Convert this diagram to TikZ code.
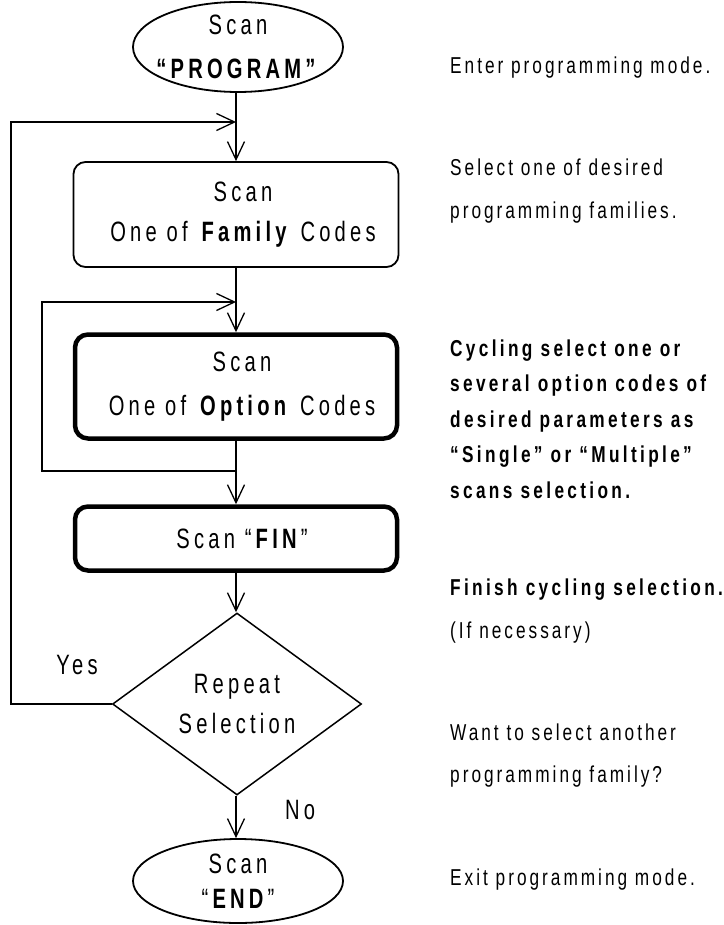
\documentclass[tikz,border=0pt]{standalone}
\usepackage{fontspec}
\setmainfont{Liberation Sans}
\newfontfamily\flowf[FakeStretch=0.72,LetterSpace=15]{Liberation Sans}
\newfontfamily\notef[FakeStretch=0.75,LetterSpace=13]{Liberation Sans}
\newfontfamily\notebf[FakeStretch=0.75,LetterSpace=14.5]{Liberation Sans}
\usetikzlibrary{shapes.geometric,arrows.meta}
\begin{document}
\begin{tikzpicture}[x=1pt,y=-1pt,
  flowtext/.style={font=\fontsize{28}{40}\selectfont\flowf, align=center, inner sep=0pt},
  notetext/.style={font=\fontsize{23}{43}\selectfont\notef, align=left, anchor=west, inner sep=0pt},
  roundbox/.style={draw, line width=1.8pt, rounded corners=12pt, minimum width=325pt, inner sep=0pt},
  heavybox/.style={draw, line width=4.5pt, rounded corners=13pt, minimum width=322pt, inner sep=0pt},
  oval/.style={draw, ellipse, line width=1.8pt, minimum width=210pt, inner sep=0pt},
  arr/.style={-{Straight Barb[length=18pt,width=17pt]}, line width=1.3pt}]
\useasboundingbox (0,0) rectangle (723,925);

% shapes
\node[oval, minimum height=90pt,
  label={[flowtext, font=\fontsize{28}{44}\selectfont\flowf]center:{Scan\\\textbf{“PROGRAM”}}}]
  (start) at (238,47) {};
\node[roundbox, minimum height=105pt,
  label={[flowtext, xshift=7pt, font=\fontsize{28}{40}\selectfont\flowf]center:{Scan\\One of \textbf{Family} Codes}}]
  (family) at (236,214.5) {};
\node[heavybox, minimum height=104pt,
  label={[flowtext, xshift=6pt, font=\fontsize{28}{44}\selectfont\flowf]center:{Scan\\One of \textbf{Option} Codes}}]
  (option) at (236,386.5) {};
\node[heavybox, minimum height=64pt,
  label={[flowtext, xshift=6pt]center:{Scan “\textbf{FIN}”}}]
  (fin) at (236,538.5) {};
\node[draw, diamond, line width=1.5pt, minimum width=249pt, minimum height=182pt, inner sep=0pt,
  label={[flowtext]center:{Repeat\\Selection}}]
  (dec) at (237,704) {};
\node[oval, minimum height=84pt,
  label={[flowtext, font=\fontsize{28}{35}\selectfont\flowf]center:{Scan\\“\textbf{END}”}}]
  (end) at (238,881) {};

% branch labels
\node[flowtext] (yes) at (77,665) {Yes};
\node[flowtext] (no) at (300,810) {No};

% junction coordinates
\coordinate (j1) at (236,122);
\coordinate (j2) at (236,302);
\coordinate (j3) at (236,471);
\coordinate (oL) at (11,122);
\coordinate (iL) at (42,302);

% connectors
\draw[arr] (start.south -| family.north) -- (family.north);
\draw[arr] (dec.west) -| (oL) -- (j1);
\draw[arr] (family.south) -- (option.north);
\draw[arr] (j3) -| (iL) -- (j2);
\draw[arr] (option.south) -- (fin.north);
\draw[arr] (fin.south) -- (dec.north -| fin.south);
\draw[arr] (dec.south -| fin.south) -- (end.north -| fin.south);

% notes
\node[notetext] (n1) at (450,68) {Enter programming mode.};
\node[notetext] (n2) at (450,191.5) {Select one of desired\\programming families.};
\node[notetext, font=\fontsize{23}{35.5}\selectfont\notebf\bfseries] (n3) at (450,419)
  {Cycling select one or\\several option codes of\\desired parameters as\\“Single” or “Multiple”\\scans selection.};
\node[notetext] (n4) at (450,611.5) {{\notebf\bfseries Finish cycling selection.}\\(If necessary)};
\node[notetext, font=\fontsize{23}{42}\selectfont\notef] (n5) at (450,756) {Want to select another\\programming family?};
\node[notetext] (n6) at (450,880) {Exit programming mode.};
\end{tikzpicture}
\end{document}
